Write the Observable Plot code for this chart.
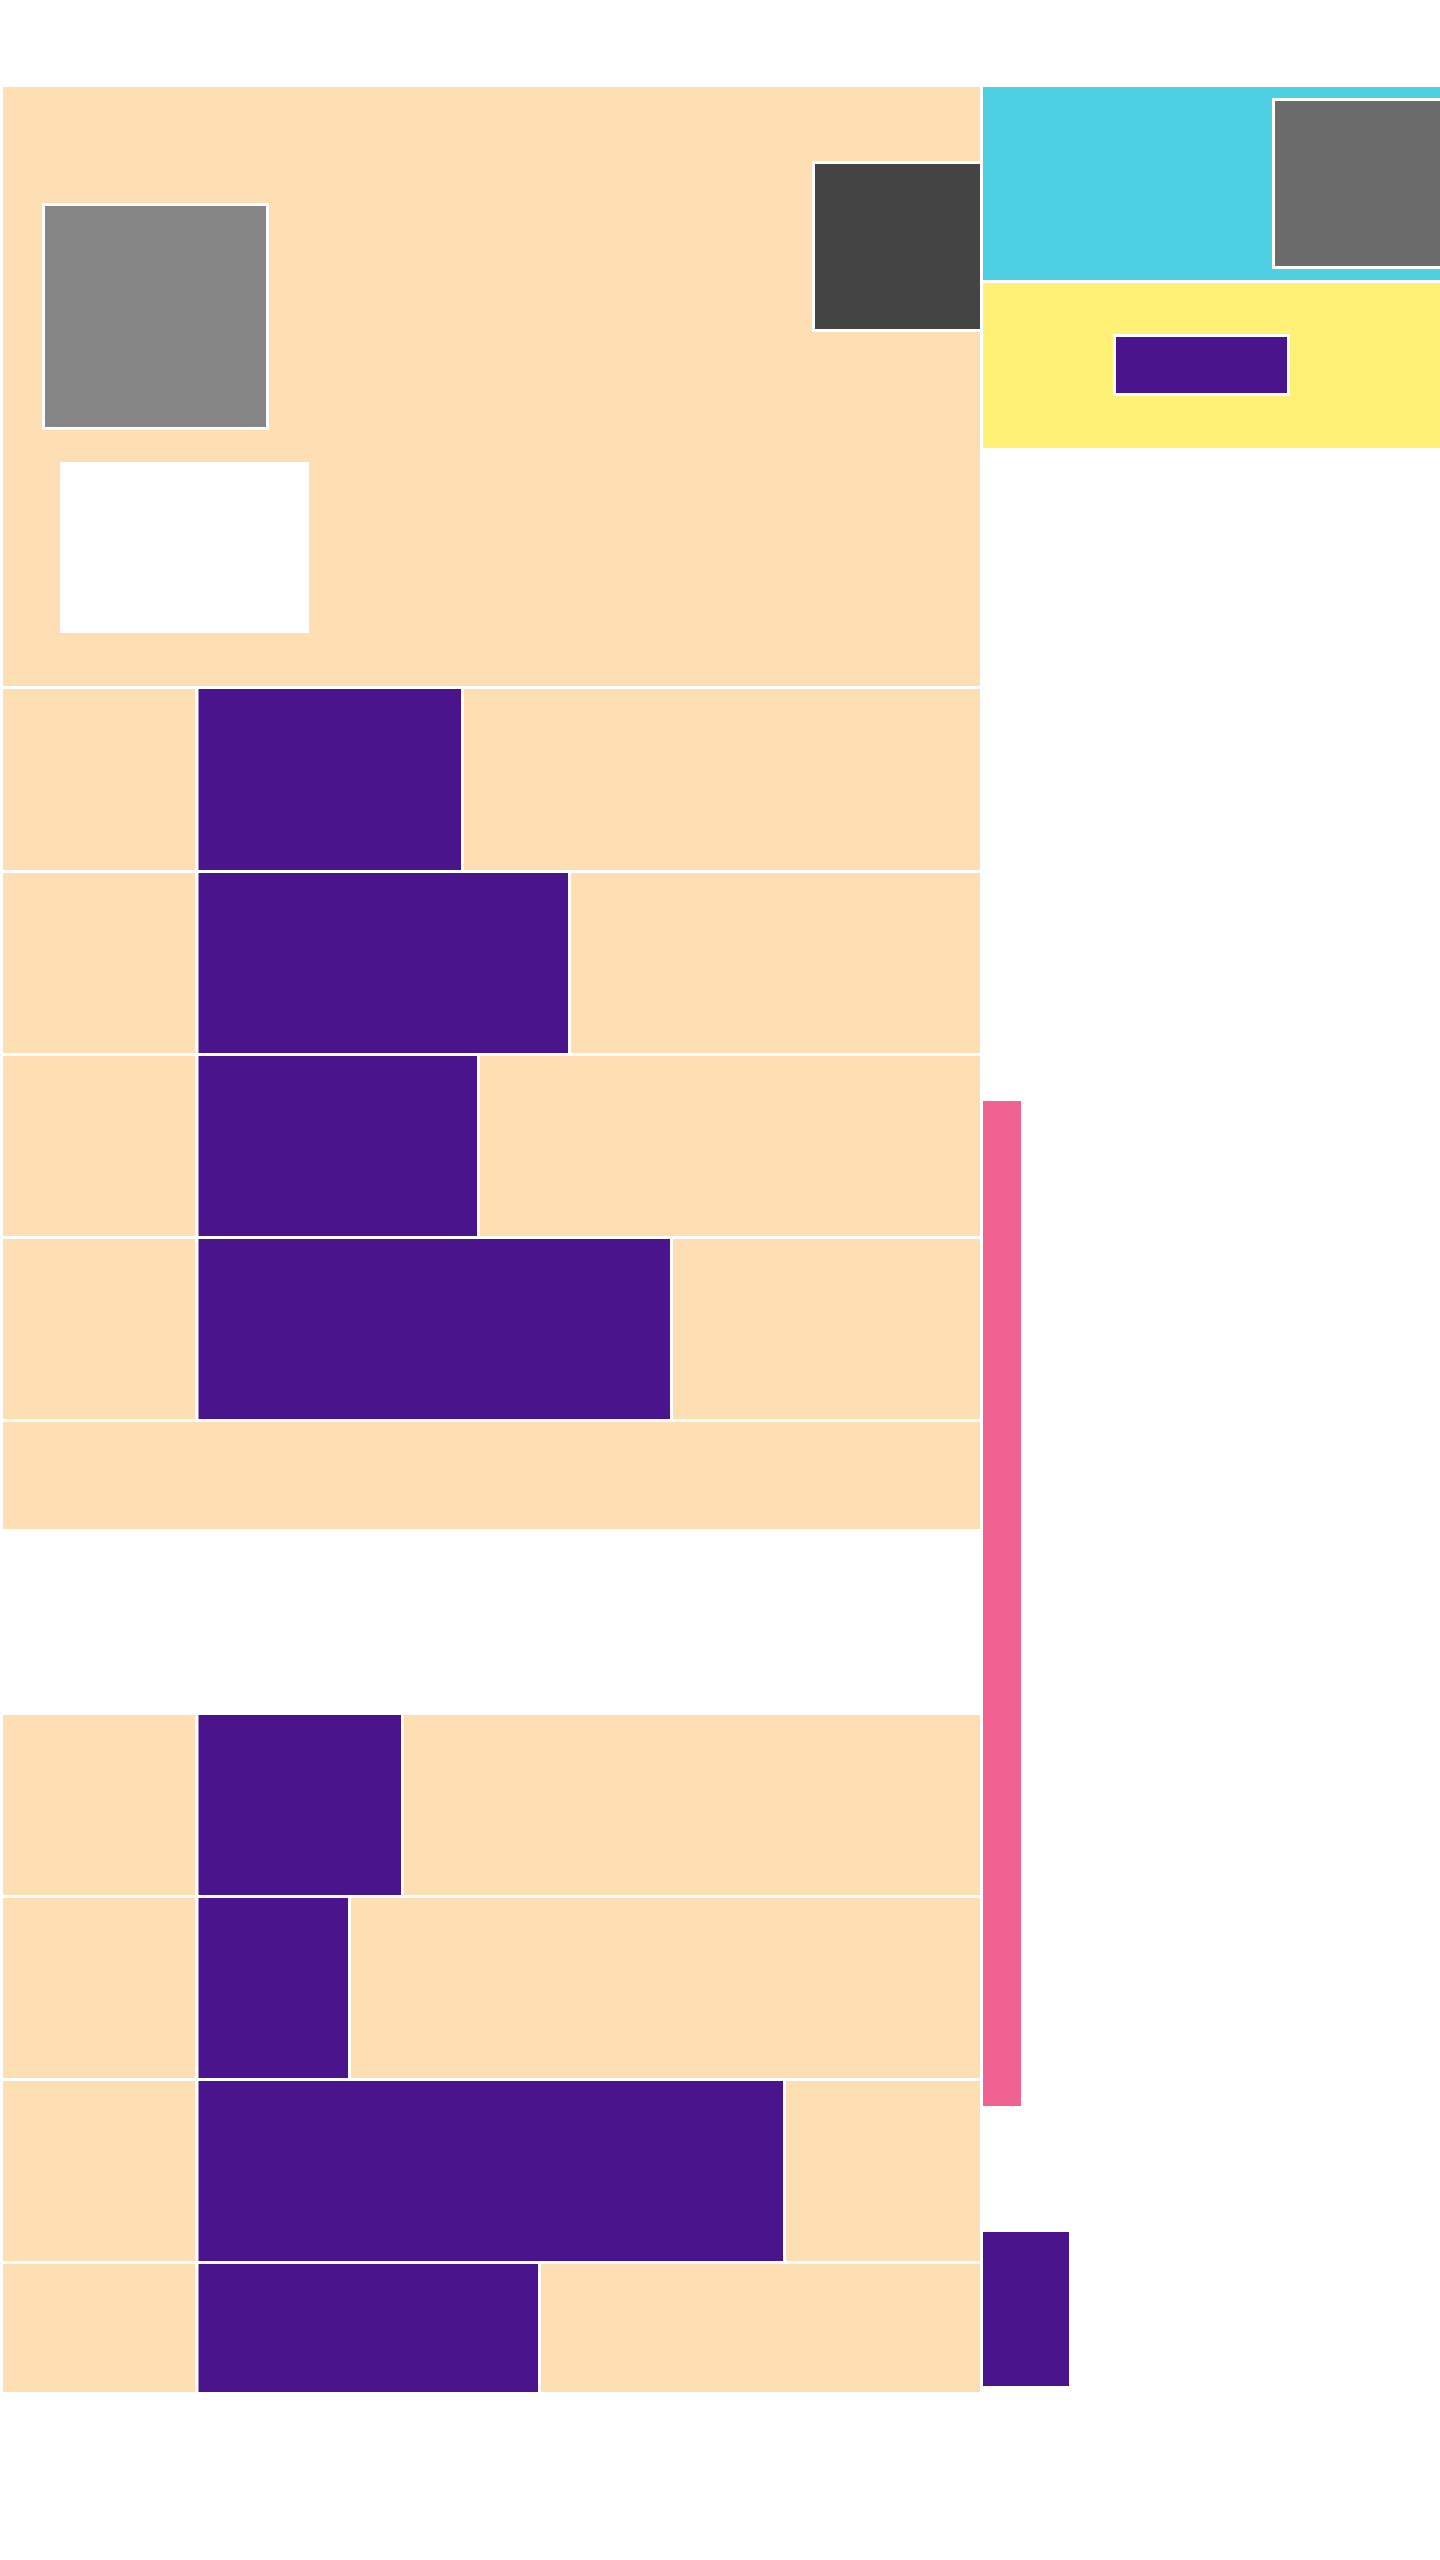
<!DOCTYPE html>
<html>
<head>
<meta charset="utf-8">
<script src="https://cdn.jsdelivr.net/npm/d3@7"></script>
<script src="https://cdn.jsdelivr.net/npm/@observablehq/plot@0.6"></script>
<style>
  html, body { margin: 0; padding: 0; background: #ffffff; }
  #chart svg { display: block; }
</style>
</head>
<body>
<div id="chart"></div>
<script>
// ---- Data (chart units: 1 unit = 10 px of the layout grid) ----
// Bar rows: each row = label cell | bar (purple) | remainder cell
const rowNames   = ["r1", "r2", "r3", "r4", "r6", "r7", "r8", "r9"];
const rowStart   = [68.75, 87.15, 105.45, 123.75, 171.35, 189.65, 207.95, 226.25];
const rowEnd     = [87.15, 105.45, 123.75, 142.05, 189.65, 207.95, 226.25, 239.35];
const barValues  = [46.25, 56.95, 47.85, 67.15, 40.25, 34.95, 78.45, 53.95];
const labelEnd   = 19.7;
const panelStart = 0.15;
const panelEnd   = 98.15;

// Full-width band between the two groups of rows
const bandNames = ["band"];
const bandStart = [142.05];
const bandEnd   = [153.05];

// Other blocks: category, x1, x2, y1, y2
const blockNames = ["panel", "grey", "blank", "dark", "cyan", "dimgrey", "yellow", "inner", "pink", "tail"];
const blockCat   = ["peach", "grey", "white", "dark", "cyan", "dimgrey", "yellow", "purple", "pink", "purple"];
const blockX1    = [0.15, 4.35, 6.15, 81.35, 98.15, 127.35, 98.15, 111.45, 98.15, 98.15];
const blockX2    = [98.15, 26.75, 30.75, 98.15, 144.15, 144.25, 144.15, 128.85, 102.25, 107.05];
const blockY1    = [8.55, 20.45, 46.35, 16.25, 8.55, 9.95, 28.15, 33.55, 109.95, 223.05];
const blockY2    = [68.75, 42.85, 63.15, 33.05, 28.15, 26.75, 44.95, 39.45, 210.75, 238.75];

const categories = ["peach", "purple", "grey", "white", "dark", "cyan", "dimgrey", "yellow", "pink"];
const palette    = ["#fddfb3", "#4a148c", "#858585", "#ffffff", "#444444", "#4dd0e1", "#6b6b6b", "#fff176", "#f06292"];

// ---- Build tables ----
const cells = [];
blockNames.forEach((n, i) => cells.push({name: n, cat: blockCat[i], x1: blockX1[i], x2: blockX2[i], y1: blockY1[i], y2: blockY2[i]}));
bandNames.forEach((n, i) => cells.push({name: n, cat: "peach", x1: panelStart, x2: panelEnd, y1: bandStart[i], y2: bandEnd[i]}));
rowNames.forEach((n, i) => {
  cells.push({name: n + "-label", cat: "peach", x1: panelStart, x2: labelEnd, y1: rowStart[i], y2: rowEnd[i]});
  cells.push({name: n + "-bar", cat: "purple", x1: labelEnd, x2: barValues[i], y1: rowStart[i], y2: rowEnd[i]});
  cells.push({name: n + "-rest", cat: "peach", x1: barValues[i], x2: panelEnd, y1: rowStart[i], y2: rowEnd[i]});
});
// draw order: big containers first, nested blocks after
const order = ["panel", "cyan", "yellow"];
cells.sort((a, b) => (order.includes(b.name) ? 1 : 0) - (order.includes(a.name) ? 1 : 0));

const chart = Plot.plot({
  width: 1440,
  height: 2560,
  margin: 0,
  x: {domain: [0, 144], range: [0, 1440], axis: null},
  y: {domain: [0, 256], range: [0, 2560], axis: null},
  color: {domain: categories, range: palette},
  style: {background: "#ffffff"},
  marks: [
    Plot.rect(cells, {
      x1: "x1", x2: "x2", y1: "y1", y2: "y2",
      fill: "cat",
      stroke: "#ffffff",
      strokeWidth: 3
    })
  ]
});
document.getElementById("chart").appendChild(chart);
</script>
</body>
</html>
